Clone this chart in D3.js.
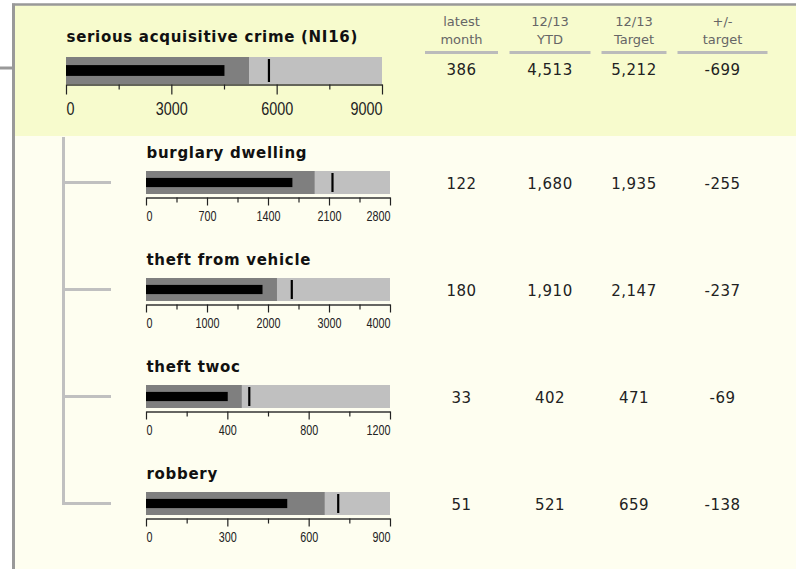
<!DOCTYPE html>
<html>
<head>
<meta charset="utf-8">
<script src="https://cdn.jsdelivr.net/npm/d3@7"></script>
<style>
body { margin: 0; background: #fff; }
svg { display: block; }
</style>
</head>
<body>
<svg id="chart" width="796" height="569"></svg>
<script>
// data
const categories = ["serious acquisitive crime (NI16)", "burglary dwelling", "theft from vehicle", "theft twoc", "robbery"];
const latestMonth = [386, 122, 180, 33, 51];
const ytd = [4513, 1680, 1910, 402, 521];
const target = [5212, 1935, 2147, 471, 659];
const diffTarget = [-699, -255, -237, -69, -138];
const markers = [5780, 2140, 2390, 508, 709];
const axisMax = [9000, 2800, 4000, 1200, 900];
const tickStep = [3000, 700, 1000, 400, 300];
const headers = [["latest", "month"], ["12/13", "YTD"], ["12/13", "Target"], ["+/-", "target"]];

const fmt = d3.formatLocale({decimal: ".", thousands: ",", grouping: [3], currency: ["", ""], minus: "-"}).format(",");

const svg = d3.select("#chart");

// panels + borders
svg.append("rect").attr("x", 15).attr("y", 5).attr("width", 781).attr("height", 131).attr("fill", "#f7fbcd");
svg.append("rect").attr("x", 15).attr("y", 136).attr("width", 781).attr("height", 433).attr("fill", "#fefef0");
svg.append("line").attr("x1", 12).attr("x2", 796).attr("y1", 4.5).attr("y2", 4.5)
    .attr("stroke", "#999").attr("stroke-width", 2.5);
svg.append("line").attr("x1", 13.5).attr("x2", 13.5).attr("y1", 3.5).attr("y2", 569)
    .attr("stroke", "#999").attr("stroke-width", 3);
svg.append("line").attr("x1", 0).attr("x2", 13).attr("y1", 68).attr("y2", 68)
    .attr("stroke", "#999").attr("stroke-width", 3);

// table header
const colX = [461.5, 550, 634, 722.5];
const colW = [73, 81, 65, 90];
headers.forEach((lines, c) => {
    lines.forEach((t, k) => {
        svg.append("text")
            .attr("x", colX[c]).attr("y", 26 + k * 18)
            .attr("text-anchor", "middle")
            .style("font-family", "'DejaVu Sans', Verdana, sans-serif")
            .style("font-size", "13px")
            .attr("fill", "#666")
            .text(t);
    });
    svg.append("line")
        .attr("x1", colX[c] - colW[c] / 2).attr("x2", colX[c] + colW[c] / 2)
        .attr("y1", 52.5).attr("y2", 52.5)
        .attr("stroke", "#bbb").attr("stroke-width", 3);
});

// vertical spacing of the sub rows
const subY = d3.scaleLinear().domain([0, 3]).range([171, 492]);
const subH = 23;

// tree lines
svg.append("line").attr("x1", 63.5).attr("x2", 63.5)
    .attr("y1", 137).attr("y2", subY(3) + subH / 2 + 1.5)
    .attr("stroke", "#c0c0c0").attr("stroke-width", 3);
d3.range(4).forEach(k => {
    svg.append("line").attr("x1", 62).attr("x2", 111)
        .attr("y1", subY(k) + subH / 2).attr("y2", subY(k) + subH / 2)
        .attr("stroke", "#c0c0c0").attr("stroke-width", 3);
});

categories.forEach((name, i) => {
    const big = i === 0;
    const x = d3.scaleLinear().domain([0, axisMax[i]]).range(big ? [66, 382] : [146, 390]);
    const top = big ? 57 : subY(i - 1);
    const h = big ? 27 : subH;
    const g = svg.append("g");

    // title
    g.append("text")
        .attr("x", x(0) + 0.5).attr("y", top - (big ? 15 : 13.5))
        .style("font-family", "'DejaVu Sans', Verdana, sans-serif")
        .style("font-size", "15px").style("font-weight", "bold")
        .style("letter-spacing", "0.7px")
        .attr("fill", "#111")
        .text(name);

    // ranges
    g.append("rect").attr("x", x(0)).attr("y", top)
        .attr("width", x(axisMax[i]) - x(0)).attr("height", h).attr("fill", "#c0c0c0");
    g.append("rect").attr("x", x(0)).attr("y", top)
        .attr("width", x(target[i]) - x(0)).attr("height", h).attr("fill", "#7f7f7f");
    // measure
    const mh = h * 0.4;
    g.append("rect").attr("x", x(0)).attr("y", top + (h - mh) / 2)
        .attr("width", x(ytd[i]) - x(0)).attr("height", mh).attr("fill", "#000");
    // marker
    g.append("line").attr("x1", x(markers[i])).attr("x2", x(markers[i]))
        .attr("y1", top + 2).attr("y2", top + h - 2)
        .attr("stroke", "#000").attr("stroke-width", 2.2);

    // axis
    const ticks = d3.range(0, axisMax[i] + 1, tickStep[i] / 2);
    const isMajor = d => Math.round(d / tickStep[i] * 2) % 2 === 0;
    const majorLen = big ? 10 : 8, minorLen = 5;
    const axis = d3.axisBottom(x).tickValues(ticks).tickSizeInner(majorLen).tickSizeOuter(0)
        .tickFormat(d => isMajor(d) ? d : "");
    const ag = g.append("g")
        .attr("transform", `translate(0,${top + h + (big ? 0.5 : 3.5)})`)
        .call(axis);
    ag.select(".domain").attr("stroke", "#333").attr("stroke-width", 1.5);
    ag.selectAll(".tick line").attr("stroke", "#222").attr("stroke-width", 1.2)
        .attr("y2", d => isMajor(d) ? majorLen : minorLen);
    const digitW = big ? 8 : 6;
    ag.selectAll(".tick text")
        .attr("y", big ? 30 : 23.5).attr("dy", null)
        .attr("fill", "#222")
        .attr("font-family", "Liberation Sans, Arial, sans-serif")
        .attr("font-size", big ? 19 : 15.5)
        .attr("text-anchor", d => d === 0 ? "start" : (d === axisMax[i] ? "end" : "middle"))
        .each(function () {
            const t = d3.select(this).text();
            if (t) d3.select(this).attr("textLength", t.length * digitW).attr("lengthAdjust", "spacingAndGlyphs");
        });

    // table values
    const vals = [latestMonth[i], ytd[i], target[i], diffTarget[i]];
    vals.forEach((v, c) => {
        g.append("text")
            .attr("x", colX[c]).attr("y", top + h / 2 + (big ? 4 : 6.5))
            .attr("text-anchor", "middle")
            .style("font-family", "'DejaVu Sans', Verdana, sans-serif")
            .style("font-size", "15px").style("letter-spacing", "0.5px")
            .attr("fill", "#222")
            .text(fmt(v));
    });
});
</script>
</body>
</html>
